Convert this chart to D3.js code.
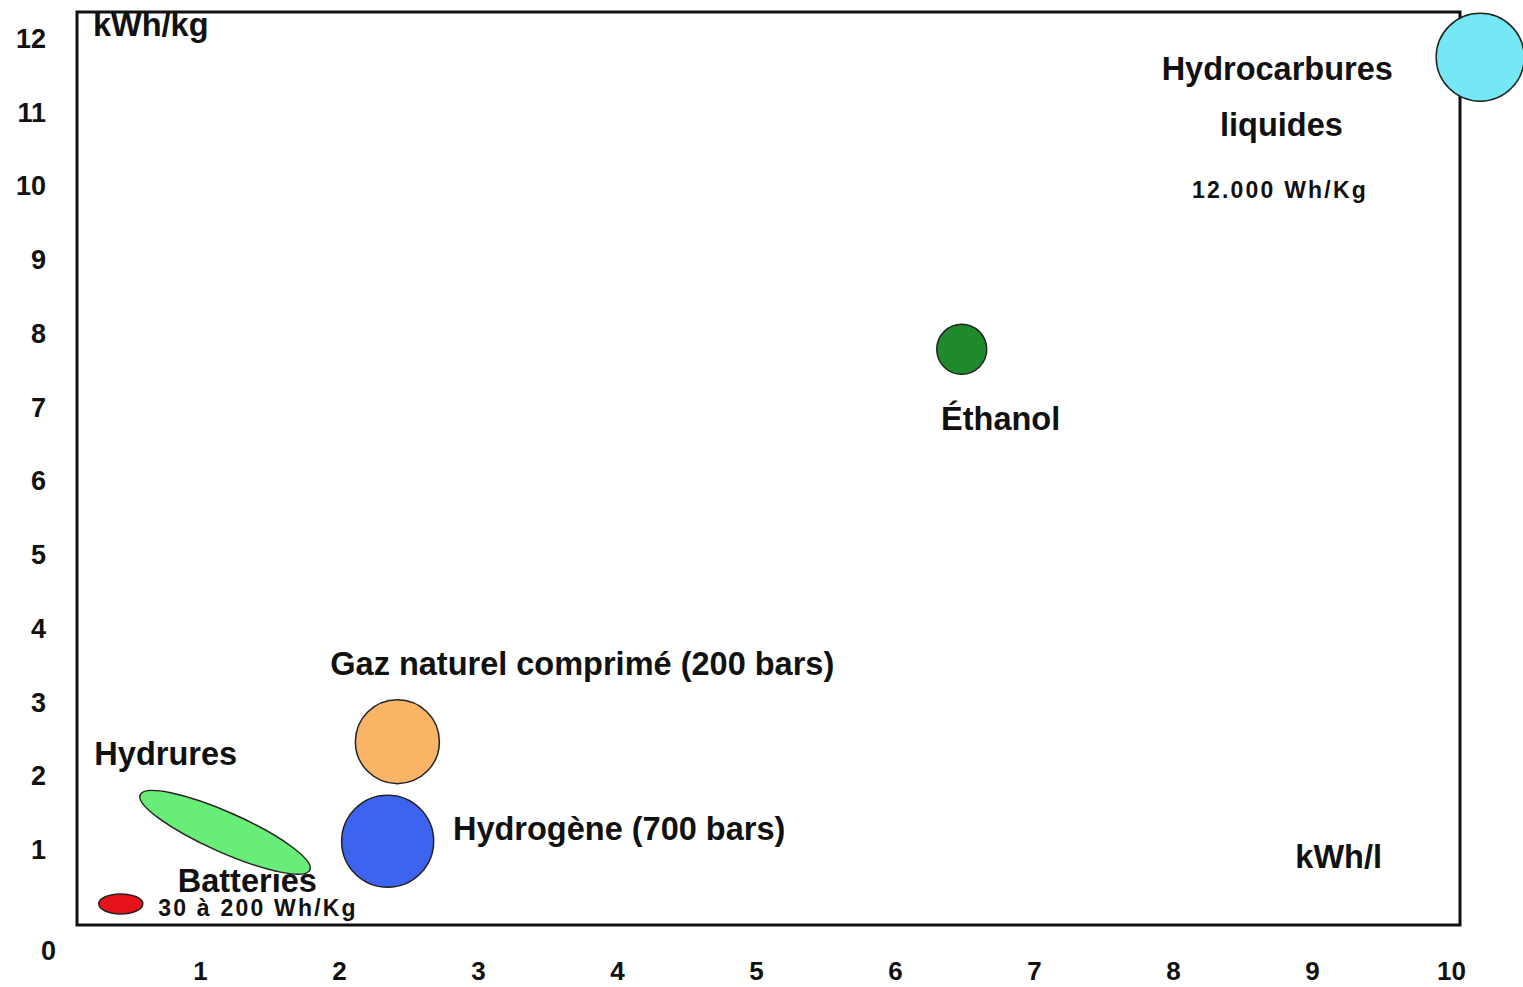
<!DOCTYPE html>
<html lang="fr">
<head>
<meta charset="utf-8">
<script src="https://d3js.org/d3.v7.min.js"></script>
<style>
  body { margin: 0; background: #fff; }
  text { font-family: "Liberation Sans", Arial, sans-serif; font-weight: bold; fill: #111; }
</style>
</head>
<body>
<svg width="1523" height="987"></svg>
<script>
// energy carriers: volumetric (kWh/l) vs gravimetric (kWh/kg)
var carriers   = ["Hydrocarbures liquides", "Éthanol", "Gaz naturel comprimé", "Hydrogène (700 bars)", "Hydrures", "Batteries"];
var kwhPerLitre = [10.21, 6.48, 2.42, 2.35, 1.18, 0.43];
var kwhPerKg    = [11.78, 7.82, 2.50, 1.15, 1.27, 0.30];
// hydrures band runs between these two points
var hydruresFrom = [0.57, 1.78];
var hydruresTo   = [1.79, 0.76];

var xTicks = [1, 2, 3, 4, 5, 6, 7, 8, 9, 10];
var yTicks = [0, 1, 2, 3, 4, 5, 6, 7, 8, 9, 10, 11, 12];

// annotation texts, placed in data units
var labelText = ["kWh/kg", "Hydrocarbures", "liquides", "12.000 Wh/Kg", "Éthanol",
                 "Gaz naturel comprimé (200 bars)", "Hydrogène (700 bars)", "Hydrures",
                 "Batteries", "30 à 200 Wh/Kg", "kWh/l"];
var labelX = [0.23, 8.75, 8.78, 8.77, 6.76, 3.75, 2.82, 0.24, 0.84, 0.70, 8.88];
var labelY = [12.07, 11.47, 10.71, 9.87, 6.72, 3.40, 1.17, 2.18, 0.46, 0.14, 0.79];

var svg = d3.select("svg");

var x = d3.scaleLinear().domain([0, 10]).range([61, 1451]);
var y = d3.scaleLinear().domain([0, 12]).range([926, 41]);

var frame = {left: 77, top: 12, right: 1460, bottom: 925};

var style = {
  "Hydrocarbures liquides": {fill: "#74e8f4", rx: 44, ry: 44},
  "Éthanol":                {fill: "#1f8a2c", rx: 25, ry: 25},
  "Gaz naturel comprimé":   {fill: "#f9b466", rx: 42, ry: 42},
  "Hydrogène (700 bars)":   {fill: "#3d64ee", rx: 46, ry: 46},
  "Hydrures":               {fill: "#68ee78", rx: 0, ry: 20},
  "Batteries":              {fill: "#e8121a", rx: 22, ry: 10}
};

svg.append("rect")
    .attr("x", frame.left).attr("y", frame.top)
    .attr("width", frame.right - frame.left)
    .attr("height", frame.bottom - frame.top)
    .attr("fill", "none").attr("stroke", "#111").attr("stroke-width", 3);

// y axis labels
var yAxis = d3.axisLeft(y).tickValues(yTicks).tickSize(0).tickPadding(0);
var gy = svg.append("g").attr("transform", "translate(46,-3)").call(yAxis);
gy.select(".domain").remove();
gy.selectAll("text")
    .style("font-size", "27px")
    .attr("dy", function(d) { return d === 0 ? "1.35em" : "0.35em"; })
    .attr("x", function(d) { return d === 0 ? 10 : 0; });

// x axis labels
var xAxis = d3.axisBottom(x).tickValues(xTicks).tickSize(0).tickPadding(0);
var gx = svg.append("g").attr("transform", "translate(0,962)").call(xAxis);
gx.select(".domain").remove();
gx.selectAll("text").style("font-size", "26px").attr("dy", "0.71em");

// annotations (under the marks, batteries text is partly hidden by hydrures)
var labels = labelText.map(function(t, i) { return {text: t, x: labelX[i], y: labelY[i]}; });
var smallLabels = ["12.000 Wh/Kg", "30 à 200 Wh/Kg"];
var middleLabels = ["Hydrocarbures", "liquides", "12.000 Wh/Kg", "Éthanol", "Gaz naturel comprimé (200 bars)"];

svg.append("g").selectAll("text")
  .data(labels)
  .enter().append("text")
    .attr("x", function(d) { return x(d.x); })
    .attr("y", function(d) { return y(d.y); })
    .attr("text-anchor", function(d) { return middleLabels.indexOf(d.text) >= 0 ? "middle" : "start"; })
    .style("font-size", function(d) { return smallLabels.indexOf(d.text) >= 0 ? "23px" : "32.5px"; })
    .style("letter-spacing", function(d) { return smallLabels.indexOf(d.text) >= 0 ? "2.2px" : "0px"; })
    .text(function(d) { return d.text; });

// marks
var points = carriers.map(function(c, i) { return {name: c, x: kwhPerLitre[i], y: kwhPerKg[i]}; });

svg.append("g").selectAll("ellipse")
  .data(points)
  .enter().append("ellipse")
    .each(function(d) {
      var s = style[d.name];
      var el = d3.select(this);
      var cx = x(d.x), cy = y(d.y), rx = s.rx, angle = 0;
      if (d.name === "Hydrures") {
        var x0 = x(hydruresFrom[0]), y0 = y(hydruresFrom[1]);
        var x1 = x(hydruresTo[0]), y1 = y(hydruresTo[1]);
        cx = (x0 + x1) / 2; cy = (y0 + y1) / 2;
        rx = Math.hypot(x1 - x0, y1 - y0) / 2;
        angle = Math.atan2(y1 - y0, x1 - x0) * 180 / Math.PI;
      }
      el.attr("cx", 0).attr("cy", 0).attr("rx", rx).attr("ry", s.ry)
        .attr("transform", "translate(" + cx + "," + cy + ") rotate(" + angle + ")")
        .attr("fill", s.fill)
        .attr("stroke", "#222")
        .attr("stroke-width", 1.5);
    });
</script>
</body>
</html>
